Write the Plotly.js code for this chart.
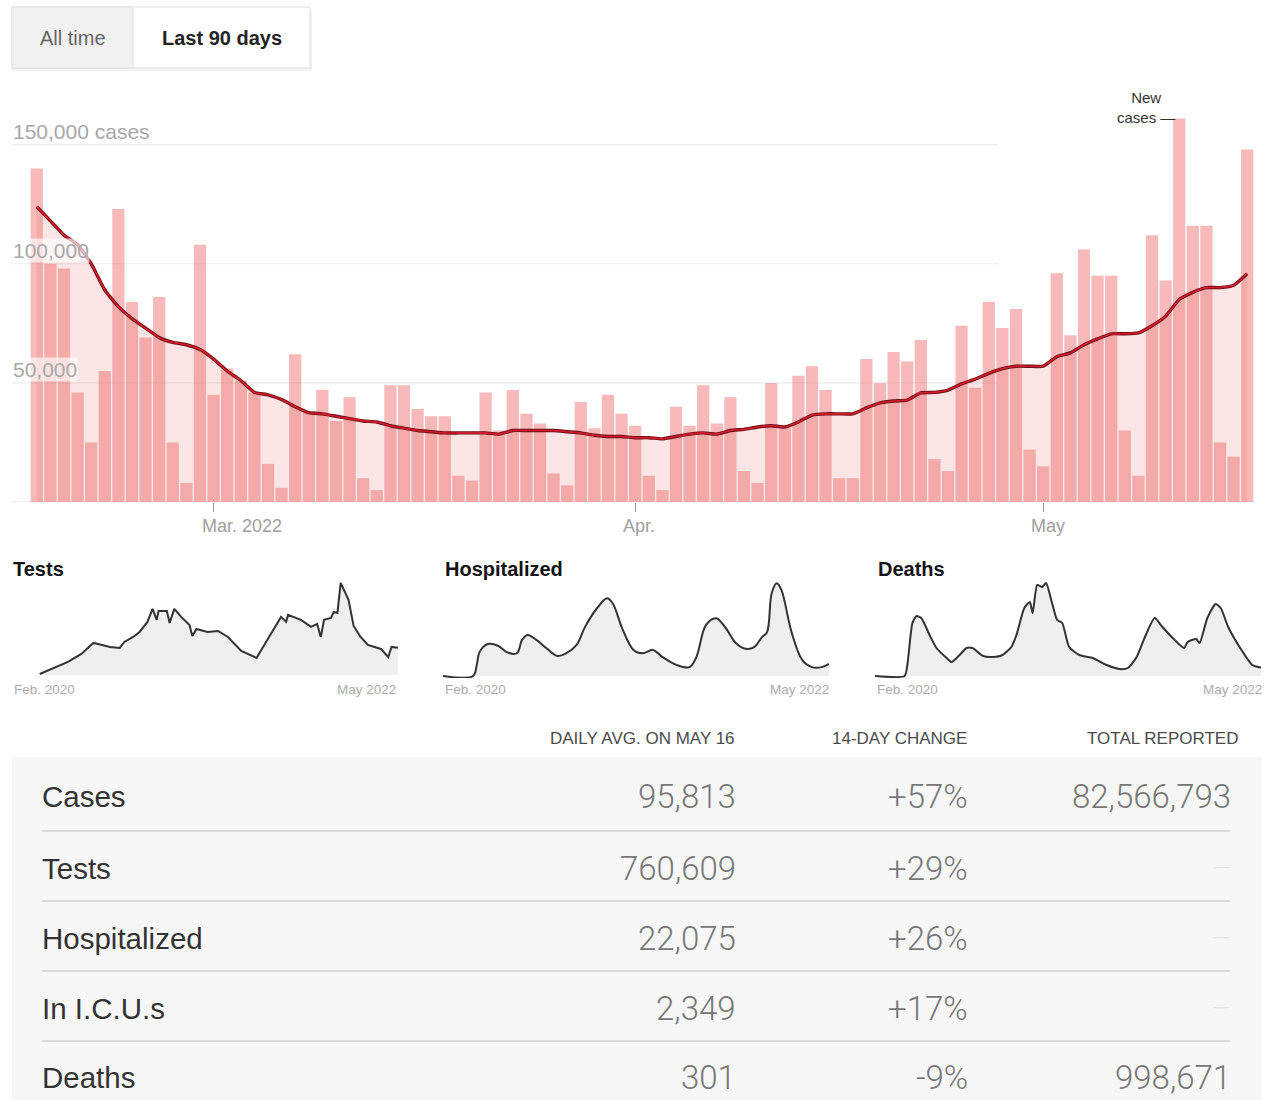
<!DOCTYPE html>
<html>
<head>
<meta charset="utf-8">
<script src="https://cdn.plot.ly/plotly-3.0.1.min.js"></script>
<style>
  html, body { margin: 0; padding: 0; background: #fff; }
  #chart { width: 1265px; height: 1100px; }
</style>
</head>
<body>
<div id="chart"></div>
<script>
// ---------- DATA ----------
const dates = ['2022-02-16','2022-02-17','2022-02-18','2022-02-19','2022-02-20','2022-02-21','2022-02-22','2022-02-23','2022-02-24','2022-02-25','2022-02-26','2022-02-27','2022-02-28',
'2022-03-01','2022-03-02','2022-03-03','2022-03-04','2022-03-05','2022-03-06','2022-03-07','2022-03-08','2022-03-09','2022-03-10','2022-03-11','2022-03-12','2022-03-13','2022-03-14','2022-03-15','2022-03-16','2022-03-17','2022-03-18','2022-03-19','2022-03-20','2022-03-21','2022-03-22','2022-03-23','2022-03-24','2022-03-25','2022-03-26','2022-03-27','2022-03-28','2022-03-29','2022-03-30','2022-03-31',
'2022-04-01','2022-04-02','2022-04-03','2022-04-04','2022-04-05','2022-04-06','2022-04-07','2022-04-08','2022-04-09','2022-04-10','2022-04-11','2022-04-12','2022-04-13','2022-04-14','2022-04-15','2022-04-16','2022-04-17','2022-04-18','2022-04-19','2022-04-20','2022-04-21','2022-04-22','2022-04-23','2022-04-24','2022-04-25','2022-04-26','2022-04-27','2022-04-28','2022-04-29','2022-04-30',
'2022-05-01','2022-05-02','2022-05-03','2022-05-04','2022-05-05','2022-05-06','2022-05-07','2022-05-08','2022-05-09','2022-05-10','2022-05-11','2022-05-12','2022-05-13','2022-05-14','2022-05-15','2022-05-16'];

const newCases = [140000,100000,98000,46000,25000,55000,123000,84000,69000,86000,25000,8000,108000,
45000,56000,51000,46000,16000,6000,62000,38000,47000,34000,44000,10000,5000,49000,49000,39000,36000,36000,11000,9000,46000,30000,47000,37000,33000,12000,7000,42000,31000,45000,37000,
32000,11000,5000,40000,32000,49000,33000,44000,13000,8000,50000,31000,53000,57000,47000,10000,10000,60000,50000,63000,59000,68000,18000,13000,74000,48000,84000,73000,81000,22000,
15000,96000,70000,106000,95000,95000,30000,11000,112000,93000,161000,116000,116000,25000,19000,148000];

const avgCases = [124000,118000,112000,108000,100000,89000,82000,77000,73000,69000,67000,66000,64000,
60000,55000,51000,46000,45000,43000,40000,37500,37000,36000,35000,34000,33600,32000,31000,30000,29500,29000,29000,29000,29000,28500,30000,30000,30000,30000,29500,29000,28000,27500,27500,
27000,27000,26500,27500,28500,29000,28500,30000,30500,31500,32000,31500,33600,36500,37000,37000,37000,39500,41600,42400,42800,45800,46000,47000,49600,51600,54000,56000,57000,57000,
57000,61000,62600,66000,68500,70600,70600,71000,74000,78000,85000,88000,90000,90000,91000,95800];

const gridValues = [150000, 100000, 50000];
const gridLabels = ['150,000 cases', '100,000', '50,000'];
const monthTicks = ['2022-03-01', '2022-04-01', '2022-05-01'];
const monthLabels = ['Mar. 2022', 'Apr.', 'May'];

const testDates = ['2020-04-01','2020-05-01','2020-06-01','2020-06-30','2020-07-26','2020-08-05','2020-08-31','2020-09-21','2020-10-01','2020-10-20','2020-11-03','2020-11-20','2020-12-01','2020-12-10','2020-12-14','2021-01-01','2021-01-07','2021-01-17','2021-02-01','2021-02-19','2021-02-25','2021-03-06','2021-03-30','2021-04-22','2021-05-13','2021-06-11','2021-07-14','2021-08-10','2021-09-05','2021-09-16','2021-09-20','2021-10-18','2021-11-09','2021-11-22','2021-11-30','2021-12-07','2021-12-22','2021-12-28','2022-01-05','2022-01-12','2022-01-23','2022-01-29','2022-02-09','2022-02-24','2022-03-12','2022-04-09','2022-04-25','2022-05-02','2022-05-16'];
const testVals = [28000,196000,364000,588000,896000,868000,784000,756000,924000,1064000,1204000,1484000,1848000,1540000,1792000,1792000,1456000,1848000,1624000,1400000,1092000,1288000,1204000,1232000,1064000,672000,476000,1064000,1624000,1484000,1680000,1540000,1344000,1428000,1064000,1540000,1596000,1764000,1736000,2576000,2296000,2100000,1372000,1064000,840000,728000,504000,784000,760609];

const hospDates = ['2020-02-01','2020-04-06','2020-04-14','2020-04-20','2020-05-08','2020-05-31','2020-06-18','2020-07-10','2020-07-21','2020-08-02','2020-08-21','2020-09-12','2020-10-06','2020-10-25','2020-11-16','2020-12-04','2020-12-30','2021-01-21','2021-02-02','2021-02-24','2021-03-19','2021-04-08','2021-04-30','2021-05-21','2021-06-20','2021-07-18','2021-08-02','2021-08-23','2021-09-14','2021-10-05','2021-10-27','2021-11-17','2021-12-05','2021-12-22','2022-01-02','2022-01-12','2022-01-23','2022-02-02','2022-02-24','2022-03-19','2022-04-09','2022-04-30','2022-05-16'];
const hospVals = [0,0,19800,43000,57600,54000,43000,41000,65000,74000,65000,50000,36000,41000,56000,88000,122000,140000,131000,83000,47000,41000,47000,34000,20000,16000,34000,92000,104000,86000,59000,49000,52000,70000,79000,149000,167000,155000,79000,29000,16000,16000,22075];

const deathDates = ['2020-02-01','2020-04-05','2020-04-11','2020-04-22','2020-05-01','2020-05-11','2020-05-29','2020-06-13','2020-07-05','2020-07-16','2020-08-02','2020-08-17','2020-08-30','2020-09-22','2020-10-13','2020-11-03','2020-11-22','2020-12-03','2020-12-20','2021-01-01','2021-01-07','2021-01-17','2021-01-28','2021-02-05','2021-02-18','2021-03-01','2021-03-12','2021-03-27','2021-04-18','2021-05-17','2021-06-16','2021-07-14','2021-08-01','2021-08-20','2021-09-06','2021-09-28','2021-10-13','2021-11-06','2021-12-01','2021-12-08','2021-12-27','2022-01-03','2022-01-20','2022-02-07','2022-02-18','2022-03-06','2022-04-01','2022-04-27','2022-05-10','2022-05-16'];
const deathVals = [0,0,385,1855,2100,2030,1435,980,630,490,735,980,980,700,665,735,1015,1435,2380,2590,2205,3185,3115,3255,2555,1960,1855,1015,735,630,385,245,280,665,1330,2030,1750,1330,980,1190,1295,1155,2030,2520,2380,1715,980,385,315,301];

const sparkTitles = ['Tests', 'Hospitalized', 'Deaths'];
const sparkStart = 'Feb. 2020';
const sparkEnd = 'May 2022';

const tableHeaders = ['DAILY AVG. ON MAY 16', '14-DAY CHANGE', 'TOTAL REPORTED'];
const rowLabels = ['Cases', 'Tests', 'Hospitalized', 'In I.C.U.s', 'Deaths'];
const dailyAvg = ['95,813', '760,609', '22,075', '2,349', '301'];
const change14 = ['+57%', '+29%', '+26%', '+17%', '-9%'];
const totals = ['82,566,793', '—', '—', '—', '998,671'];

const toggleLabels = ['All time', 'Last 90 days'];

// ---------- LAYOUT HELPERS ----------
const W = 1265, H = 1100;
const px = v => v / W;
const py = v => 1 - v / H;
const FONT = 'Liberation Sans, Arial, sans-serif';

const hiddenAxis = extra => Object.assign({
  showgrid: false, zeroline: false, showline: false, showticklabels: false,
  ticks: '', fixedrange: true
}, extra);

// ---------- TRACES ----------
const traces = [
  { type: 'bar', x: dates, y: newCases, xaxis: 'x', yaxis: 'y',
    marker: { color: 'rgba(236,88,88,0.42)', line: { width: 0 } }, hoverinfo: 'x+y' },
  { type: 'scatter', mode: 'lines', x: dates, y: avgCases, xaxis: 'x', yaxis: 'y',
    fill: 'tozeroy', fillcolor: 'rgba(240,100,100,0.17)', line: { width: 0 }, hoverinfo: 'skip' },
  { type: 'scatter', mode: 'lines', x: dates, y: avgCases, xaxis: 'x', yaxis: 'y',
    line: { color: '#6e0d17', width: 3.4, shape: 'spline', smoothing: 0.5 }, hoverinfo: 'skip' },
  { type: 'scatter', mode: 'lines', x: dates, y: avgCases, xaxis: 'x', yaxis: 'y',
    line: { color: '#d51d2c', width: 1.6, shape: 'spline', smoothing: 0.5 }, hoverinfo: 'x+y' },

  { type: 'scatter', mode: 'lines', x: testDates, y: testVals, xaxis: 'x2', yaxis: 'y2',
    fill: 'tozeroy', fillcolor: '#efefef', line: { color: '#333', width: 2 } },
  { type: 'scatter', mode: 'lines', x: hospDates, y: hospVals, xaxis: 'x3', yaxis: 'y3',
    fill: 'tozeroy', fillcolor: '#efefef', line: { color: '#333', width: 2, shape: 'spline', smoothing: 1 } },
  { type: 'scatter', mode: 'lines', x: deathDates, y: deathVals, xaxis: 'x4', yaxis: 'y4',
    fill: 'tozeroy', fillcolor: '#efefef', line: { color: '#333', width: 2, shape: 'spline', smoothing: 0.6 } }
];

// ---------- SHAPES ----------
const shapes = [];
// toggle buttons
shapes.push({ type: 'rect', xref: 'paper', yref: 'paper', x0: px(12), x1: px(312), y0: py(71), y1: py(9),
  fillcolor: 'rgba(0,0,0,0.05)', line: { width: 0 }, layer: 'below' });
shapes.push({ type: 'rect', xref: 'paper', yref: 'paper', x0: px(12), x1: px(310), y0: py(68), y1: py(7),
  fillcolor: '#ffffff', line: { color: '#e0e0e0', width: 1 }, layer: 'below' });
shapes.push({ type: 'rect', xref: 'paper', yref: 'paper', x0: px(12), x1: px(133), y0: py(68), y1: py(7),
  fillcolor: '#f1f1f1', line: { color: '#e0e0e0', width: 1 }, layer: 'below' });

// gridlines
gridValues.forEach(v => {
  shapes.push({ type: 'line', xref: 'paper', yref: 'y', x0: px(12), x1: px(998), y0: v, y1: v,
    line: { color: '#ececec', width: 1.2 }, layer: 'below' });
});
// baseline
shapes.push({ type: 'line', xref: 'paper', yref: 'y', x0: px(12), x1: px(1256), y0: 0, y1: 0,
  line: { color: '#e2e2e2', width: 1.2 }, layer: 'below' });

// table background
shapes.push({ type: 'rect', xref: 'paper', yref: 'paper', x0: px(12), x1: px(1262), y0: py(1100), y1: py(757),
  fillcolor: '#f7f7f7', line: { width: 0 }, layer: 'below' });
const rowY = [797, 868, 938, 1008, 1077];
const sepY = [831, 901, 971, 1041];
sepY.forEach(y => {
  shapes.push({ type: 'line', xref: 'paper', yref: 'paper', x0: px(42), x1: px(1230), y0: py(y), y1: py(y),
    line: { color: '#d2d2d2', width: 1.4 }, layer: 'below' });
});

// ---------- ANNOTATIONS ----------
const ann = [];
// toggle
ann.push({ xref: 'paper', yref: 'paper', x: px(73), y: py(38), text: toggleLabels[0], showarrow: false,
  xanchor: 'center', yanchor: 'middle', font: { family: FONT, size: 20, color: '#666' } });
ann.push({ xref: 'paper', yref: 'paper', x: px(222), y: py(38), text: '<b>' + toggleLabels[1] + '</b>', showarrow: false,
  xanchor: 'center', yanchor: 'middle', font: { family: FONT, size: 20, color: '#222' } });

// y labels
gridValues.forEach((v, i) => {
  ann.push({ xref: 'paper', yref: 'y', x: px(12), y: v, text: gridLabels[i], showarrow: false,
    xanchor: 'left', yanchor: 'bottom', yshift: 1,
    bgcolor: i === 0 ? 'rgba(0,0,0,0)' : 'rgba(255,255,255,0.65)', borderpad: 0,
    font: { family: FONT, size: 21, color: '#a8a8a8' } });
});
// month labels
monthTicks.forEach((d, i) => {
  ann.push({ xref: 'x', yref: 'paper', x: d, y: py(502), text: monthLabels[i], showarrow: false,
    xanchor: 'left', yanchor: 'top', xshift: -14, yshift: -12,
    font: { family: FONT, size: 18, color: '#a0a0a0' } });
});
// New cases label
ann.push({ xref: 'paper', yref: 'paper', x: px(1146), y: py(108), text: 'New<br>cases —', showarrow: false,
  xanchor: 'center', yanchor: 'middle', align: 'center',
  font: { family: FONT, size: 15, color: '#333' } });

// sparkline titles & labels
const sparkLeft = [12, 443, 875];
const sparkTitleX = [11, 443, 876];
const sparkRight = [398, 831, 1264];
sparkTitles.forEach((t, i) => {
  ann.push({ xref: 'paper', yref: 'paper', x: px(sparkTitleX[i]), y: py(569), text: '<b>' + t + '</b>', showarrow: false,
    xanchor: 'left', yanchor: 'middle', font: { family: FONT, size: 20, color: '#121212' } });
  ann.push({ xref: 'paper', yref: 'paper', x: px(sparkLeft[i]), y: py(689), text: sparkStart, showarrow: false,
    xanchor: 'left', yanchor: 'middle', font: { family: FONT, size: 13.5, color: '#ababab' } });
  ann.push({ xref: 'paper', yref: 'paper', x: px(sparkRight[i]), y: py(689), text: sparkEnd, showarrow: false,
    xanchor: 'right', yanchor: 'middle', font: { family: FONT, size: 13.5, color: '#ababab' } });
});

// table headers
const headRight = [737, 969, 1240];
tableHeaders.forEach((h, i) => {
  ann.push({ xref: 'paper', yref: 'paper', x: px(headRight[i]), y: py(738), text: h, showarrow: false,
    xanchor: 'right', yanchor: 'middle', font: { family: FONT, size: 17, color: '#4a4a4a' } });
});
// table rows
const colRight = [738, 970, 1233];
const NUMFONT = 'Roboto, Liberation Sans, sans-serif';
rowLabels.forEach((r, i) => {
  ann.push({ xref: 'paper', yref: 'paper', x: px(40), y: py(rowY[i]), text: r, showarrow: false,
    xanchor: 'left', yanchor: 'middle', font: { family: FONT, size: 29.5, color: '#333' } });
  [dailyAvg[i], change14[i], totals[i]].forEach((v, j) => {
    const faint = v === '—';
    ann.push({ xref: 'paper', yref: 'paper', x: px(colRight[j]), y: py(rowY[i]), text: v, showarrow: false,
      xanchor: 'right', yanchor: 'middle',
      font: { family: NUMFONT, size: faint ? 24 : 33, weight: 300, color: faint ? '#e4e4e4' : '#777' } });
  });
});

// ---------- LAYOUT ----------
const layout = {
  width: W, height: H,
  margin: { l: 0, r: 0, t: 0, b: 0 },
  paper_bgcolor: '#ffffff', plot_bgcolor: 'rgba(0,0,0,0)',
  showlegend: false, bargap: 0.1,
  font: { family: FONT },
  xaxis: hiddenAxis({ domain: [px(30), px(1254)], type: 'date', range: ['2022-02-15 12:00', '2022-05-16 12:00'],
    tickmode: 'array', tickvals: monthTicks, ticks: 'outside', ticklen: 9, tickwidth: 1.2, tickcolor: '#9a9a9a', anchor: 'y' }),
  yaxis: hiddenAxis({ domain: [py(502), py(97)], range: [0, 170000], anchor: 'x' }),
  xaxis2: hiddenAxis({ domain: [px(12), px(398)], type: 'date', range: ['2020-02-01', '2022-05-16'], anchor: 'y2' }),
  yaxis2: hiddenAxis({ domain: [py(677), py(582)], range: [-56000, 2600000], anchor: 'x2' }),
  xaxis3: hiddenAxis({ domain: [px(443), px(829)], type: 'date', range: ['2020-02-01', '2022-05-16'], anchor: 'y3' }),
  yaxis3: hiddenAxis({ domain: [py(678), py(581.6)], range: [-3600, 170000], anchor: 'x3' }),
  xaxis4: hiddenAxis({ domain: [px(875), px(1261)], type: 'date', range: ['2020-02-01', '2022-05-16'], anchor: 'y4' }),
  yaxis4: hiddenAxis({ domain: [py(678), py(581.7)], range: [-70, 3300], anchor: 'x4' }),
  shapes: shapes,
  annotations: ann
};

Plotly.newPlot('chart', traces, layout, { displayModeBar: false, staticPlot: true });
</script>
</body>
</html>
